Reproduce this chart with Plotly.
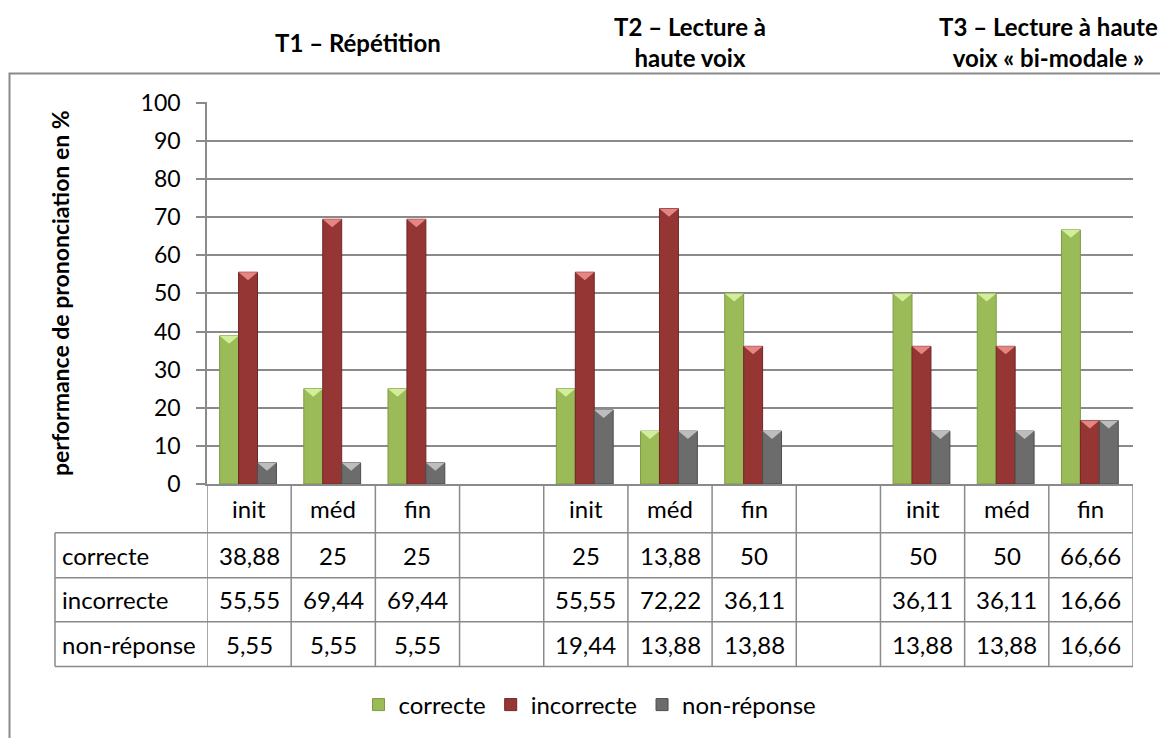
import plotly.graph_objects as go

# ---- data ----
categories = ["init", "méd", "fin", "", "init", "méd", "fin", "", "init", "méd", "fin"]
correcte = [38.88, 25, 25, None, 25, 13.88, 50, None, 50, 50, 66.66]
incorrecte = [55.55, 69.44, 69.44, None, 55.55, 72.22, 36.11, None, 36.11, 36.11, 16.66]
non_reponse = [5.55, 5.55, 5.55, None, 19.44, 13.88, 13.88, None, 13.88, 13.88, 16.66]
series_names = ["correcte", "incorrecte", "non-réponse"]
task_titles = ["T1 – Répétition", "T2 – Lecture à<br>haute voix", "T3 – Lecture à haute<br>voix « bi-modale »"]
y_ticks = list(range(0, 101, 10))
y_title = "performance de prononciation en %"

# ---- geometry (pixels) ----
W, H = 1160, 738
L, R, T, B = 207, 1133, 102, 485
FONT = "Lato"
GRID = "#8a8a8a"


def px2x(px):
    return (px - L) / (R - L)


def py2y(py):
    return (B - py) / (B - T)


BAR_W = 0.225
CAP = 2.1  # height of the bevel cap, in axis units
styles = [
    # body, edge, cap, offset
    ("#9bbb59", "#7d9a43", "#d3ee9a", -0.35),
    ("#963634", "#6f2624", "#e58584", -0.125),
    ("#6c6c6c", "#4e4e4e", "#bdbdbd", 0.10),
]

fig = go.Figure()
xs_idx = list(range(len(categories)))
all_series = [correcte, incorrecte, non_reponse]

for name, vals, (body, edge, cap, off) in zip(series_names, all_series, styles):
    fig.add_bar(
        x=xs_idx, y=vals, name=name, width=BAR_W, offset=off,
        marker=dict(color=body, line=dict(color=edge, width=1)),
    )
    cx, cy = [], []
    for xi, v in zip(xs_idx, vals):
        if v is None:
            continue
        xl = xi + off
        xr = xl + BAR_W
        cx += [xl, xr, (xl + xr) / 2, xl, None]
        cy += [v, v, v - CAP, v, None]
    fig.add_scatter(
        x=cx, y=cy, mode="lines", fill="toself", fillcolor=cap,
        line=dict(width=0, color=cap), showlegend=False, hoverinfo="skip",
    )

# ---- data table below the plot ----
HEADER_Y = 510
ROW_LINES = [534, 579, 623, 668]
TABLE_LEFT = 55
shapes = []
for b in range(len(categories) + 1):
    shapes.append(dict(type="line", xref="x", yref="paper", x0=b - 0.5, x1=b - 0.5,
                       y0=py2y(B), y1=py2y(ROW_LINES[-1]), line=dict(color=GRID, width=1.5)))
shapes.append(dict(type="line", xref="paper", yref="paper", x0=px2x(TABLE_LEFT), x1=px2x(TABLE_LEFT),
                   y0=py2y(ROW_LINES[0]), y1=py2y(ROW_LINES[-1]), line=dict(color=GRID, width=1.5)))
for ry in ROW_LINES:
    shapes.append(dict(type="line", xref="paper", yref="paper", x0=px2x(TABLE_LEFT), x1=px2x(R),
                       y0=py2y(ry), y1=py2y(ry), line=dict(color=GRID, width=1.5)))

# chart frame
shapes.append(dict(type="rect", xref="paper", yref="paper", x0=px2x(9.5), x1=px2x(1180),
                   y0=py2y(73.5), y1=py2y(760), line=dict(color=GRID, width=2)))

TXT = dict(family=FONT, size=24, color="#000")
annotations = []
for i, c in enumerate(categories):
    annotations.append(dict(x=i, xref="x", xanchor="center", y=py2y(HEADER_Y), yref="paper",
                            yanchor="middle", text=c, showarrow=False, font=TXT))


def fmt(v):
    return "" if v is None else f"{v:g}".replace(".", ",")


for r, (name, vals) in enumerate(zip(series_names, all_series)):
    yc = (ROW_LINES[r] + ROW_LINES[r + 1]) / 2
    annotations.append(dict(x=px2x(TABLE_LEFT + 5), xref="paper", xanchor="left", y=py2y(yc), yref="paper",
                            yanchor="middle", text=name, showarrow=False, font=TXT))
    for i, v in enumerate(vals):
        if v is None:
            continue
        annotations.append(dict(x=i, xref="x", xanchor="center", y=py2y(yc), yref="paper",
                                yanchor="middle", text=fmt(v), showarrow=False, font=TXT))

# group titles
title_x = [358, 690, 1048]
for tx, tt in zip(title_x, task_titles):
    annotations.append(dict(x=px2x(tx), xref="paper", xanchor="center", y=py2y(42), yref="paper",
                            yanchor="middle", text="<b>" + tt.replace("<br>", "</b><br><b>") + "</b>",
                            showarrow=False, align="center", font=dict(family=FONT, size=24, color="#000")))

annotations.append(dict(x=px2x(60), xref="paper", xanchor="center", y=py2y((T + B) / 2), yref="paper",
                        yanchor="middle", text="<b>" + y_title + "</b>", textangle=-90, showarrow=False,
                        font=dict(family=FONT, size=23, color="#000")))

fig.update_layout(
    width=W, height=H,
    margin=dict(l=L, r=W - R, t=T, b=H - B, pad=0),
    paper_bgcolor="white", plot_bgcolor="white",
    barmode="overlay",
    showlegend=True,
    legend=dict(orientation="h", x=px2x(590), xanchor="center", y=py2y(705), yanchor="middle",
                font=TXT, bgcolor="rgba(0,0,0,0)"),
    xaxis=dict(range=[-0.5, len(categories) - 0.5], showticklabels=False, showgrid=False, zeroline=False,
               showline=True, linecolor=GRID, linewidth=1.5, fixedrange=True),
    yaxis=dict(range=[0, 100.2], tickvals=y_ticks, showgrid=True, gridcolor=GRID, gridwidth=1.5,
               showline=True, linecolor=GRID, linewidth=1.5, ticks="outside", ticklen=9, tickcolor=GRID,
               tickwidth=1.5, zeroline=False, tickfont=dict(family=FONT, size=23, color="#000"),
               ticklabelstandoff=11),
    shapes=shapes,
    annotations=annotations,
)

fig.write_html("out.html")
